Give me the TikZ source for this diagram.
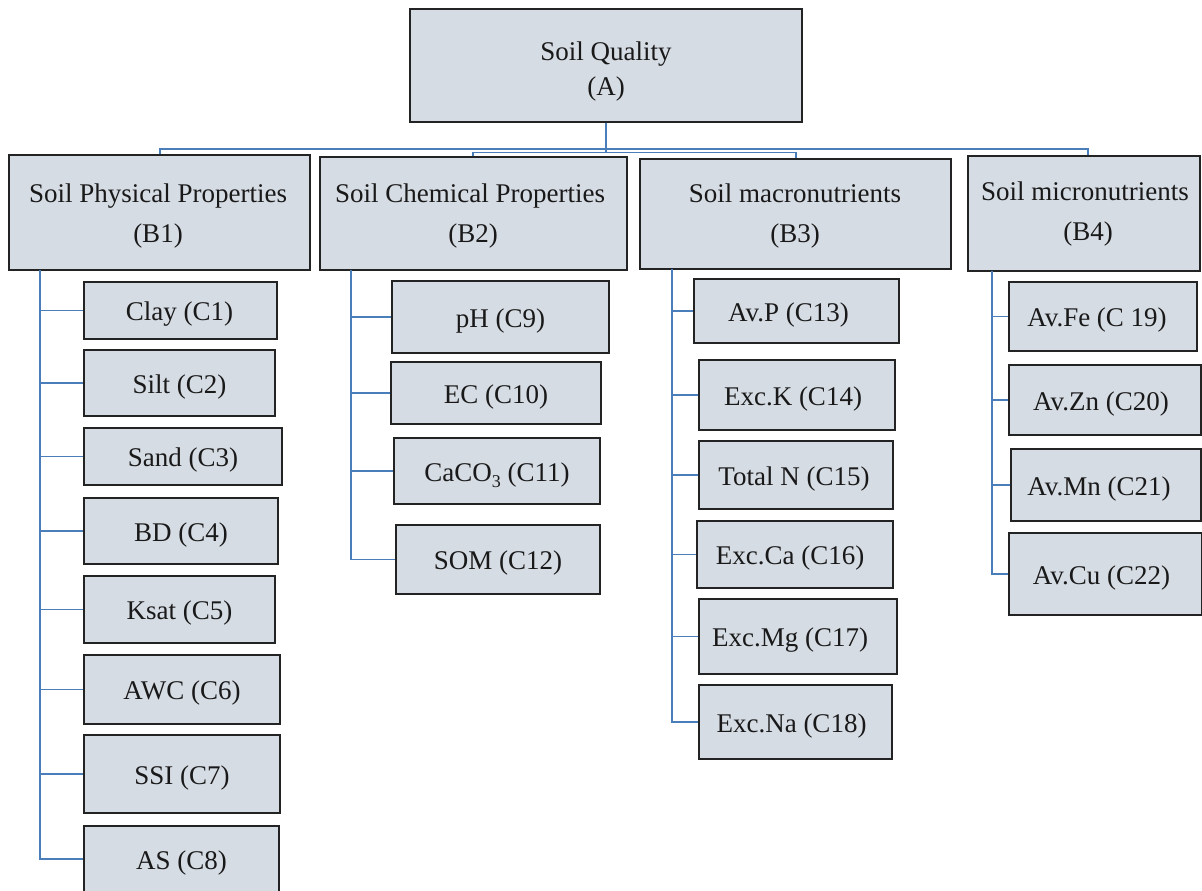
\documentclass[tikz,border=0pt]{standalone}
\usepackage{fontspec}
\setmainfont{Liberation Serif}
\definecolor{boxfill}{RGB}{214,220,228}
\definecolor{boxline}{RGB}{35,35,35}
\definecolor{connblue}{RGB}{74,126,187}
\definecolor{txt}{RGB}{25,25,25}
% empty box: name, x1, y1, x2, y2
\newcommand\mybox[5]{%
  \node[box, minimum width={#4-#2}, minimum height={#5-#3}] (#1) at ({(#2+#4)/2},{(#3+#5)/2}) {};}
% one-line box: name, x1, y1, x2, y2, text x-shift, text
\newcommand\cbox[7]{%
  \mybox{#1}{#2}{#3}{#4}{#5}%
  \node[lbl] (#1t) at ({(#2+#4)/2+#6},{(#3+#5)/2+10}) {#7};}
\newcommand\lowsub[1]{\raisebox{-6pt}{\fontsize{18}{18}\selectfont #1}}
\begin{document}
\begin{tikzpicture}[x=1pt,y=-1pt,
  box/.style={draw=boxline, fill=boxfill, line width=1.3pt, inner sep=0pt},
  lbl/.style={anchor=base, inner sep=0pt, text=txt, font=\fontsize{27}{32}\selectfont},
  conn/.style={draw=connblue, line width=1.3pt}]
\useasboundingbox (0,0) rectangle (1202,891);
% top
\mybox{A}{410}{9}{802}{122}
\node[lbl] (At1) at (606,60) {Soil Quality};
\node[lbl] (At2) at (606,95.5) {(A)};
% level B
\mybox{B1}{9}{155}{310}{270}
\node[lbl] (B1t1) at (158,202) {Soil Physical Properties};
\node[lbl] (B1t2) at (158,242) {(B1)};
\mybox{B2}{320}{157}{627}{270}
\node[lbl] (B2t1) at (470,202) {Soil Chemical Properties};
\node[lbl] (B2t2) at (473,242) {(B2)};
\mybox{B3}{640}{159}{951}{269}
\node[lbl] (B3t1) at (795,202) {Soil macronutrients};
\node[lbl] (B3t2) at (795,242) {(B3)};
\mybox{B4}{968}{156}{1200}{271}
\node[lbl] (B4t1) at (1085,200) {Soil micronutrients};
\node[lbl] (B4t2) at (1088,240) {(B4)};
% B1 children
\cbox{C1}{84}{282}{277}{339}{-1}{Clay (C1)}
\cbox{C2}{84}{350}{275}{416}{0}{Silt (C2)}
\cbox{C3}{84}{428}{282}{485}{0}{Sand (C3)}
\cbox{C4}{84}{498}{278}{564}{0}{BD (C4)}
\cbox{C5}{84}{576}{275}{643}{0}{Ksat (C5)}
\cbox{C6}{84}{655}{280}{724}{0}{AWC (C6)}
\cbox{C7}{84}{735}{280}{813}{0}{SSI (C7)}
\cbox{C8}{84}{826}{279}{892}{0}{AS (C8)}
% B2 children
\cbox{C9}{392}{281}{609}{353}{0}{pH (C9)}
\cbox{C10}{391}{362}{601}{424}{0}{EC (C10)}
\cbox{C11}{394}{438}{600}{504}{0}{CaCO\lowsub{3} (C11)}
\cbox{C12}{396}{525}{600}{594}{0}{SOM (C12)}
% B3 children
\cbox{C13}{694}{279}{899}{343}{-8}{Av.P (C13)}
\cbox{C14}{699}{360}{895}{430}{-4}{Exc.K (C14)}
\cbox{C15}{699}{441}{893}{509}{-2}{Total N (C15)}
\cbox{C16}{697}{521}{893}{588}{-5}{Exc.Ca (C16)}
\cbox{C17}{699}{599}{897}{674}{-8}{Exc.Mg (C17)}
\cbox{C18}{699}{685}{892}{759}{-4}{Exc.Na (C18)}
% B4 children
\cbox{C19}{1009}{282}{1197}{351}{-6}{Av.Fe (C 19)}
\cbox{C20}{1009}{365}{1201}{435}{-4}{Av.Zn (C20)}
\cbox{C21}{1011}{449}{1201}{521}{-7}{Av.Mn (C21)}
\cbox{C22}{1009}{533}{1202}{615}{-4}{Av.Cu (C22)}
% top connectors
\coordinate (jA) at (606,152.5);
\coordinate (t1) at (160,149);
\coordinate (t4) at (1088,149);
\coordinate (t2) at (473,152.5);
\coordinate (t3) at (796,152.5);
\draw[conn] (A.south) -- (jA);
\draw[conn] (t1 |- B1.north) -- (t1) -- (t4) -- (t4 |- B4.north);
\draw[conn] (t2 |- B2.north) -- (t2) -- (t3) -- (t3 |- B3.north);
% spines
\coordinate (s1) at (40,270);
\coordinate (s2) at (351,270);
\coordinate (s3) at (672,269);
\coordinate (s4) at (992,271);
\draw[conn] (s1) |- (C8.west);
\foreach \c in {C1,C2,C3,C4,C5,C6,C7} \draw[conn] (s1 |- \c.west) -- (\c.west);
\draw[conn] (s2) |- (C12.west);
\foreach \c in {C9,C10,C11} \draw[conn] (s2 |- \c.west) -- (\c.west);
\draw[conn] (s3) |- (C18.west);
\foreach \c in {C13,C14,C15,C16,C17} \draw[conn] (s3 |- \c.west) -- (\c.west);
\draw[conn] (s4) |- (C22.west);
\foreach \c in {C19,C20,C21} \draw[conn] (s4 |- \c.west) -- (\c.west);
\end{tikzpicture}
\end{document}
